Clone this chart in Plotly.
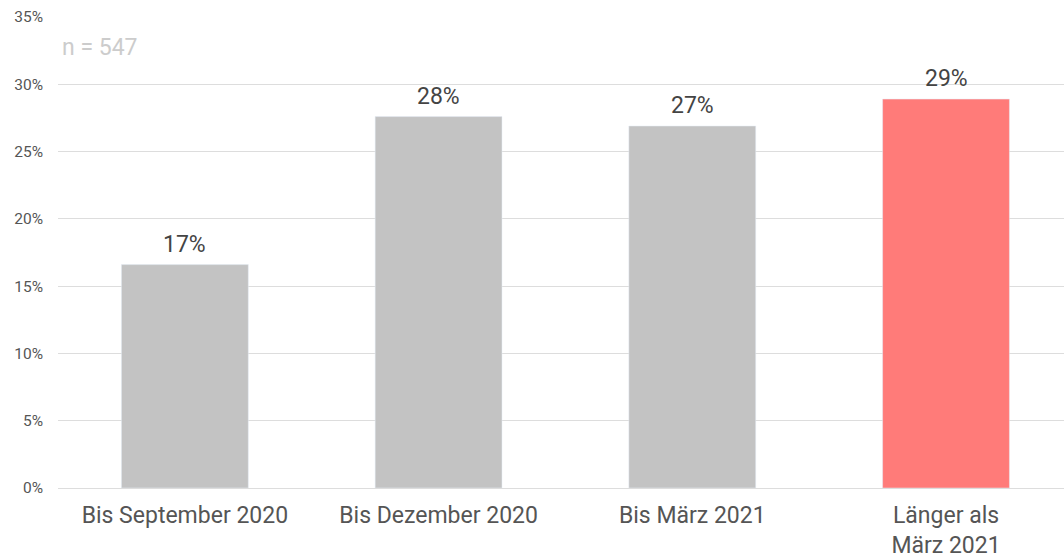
import plotly.graph_objects as go

categories = ["Bis September 2020", "Bis Dezember 2020", "Bis März 2021", "Länger als<br>März 2021"]
values = [16.6, 27.6, 26.9, 28.9]
labels = ["17%", "28%", "27%", "29%"]
colors = ["#c3c3c3", "#c3c3c3", "#c3c3c3", "#ff7b79"]
y_ticks = [0, 5, 10, 15, 20, 25, 30, 35]
y_ticktext = ["0%", "5%", "10%", "15%", "20%", "25%", "30%", "35%"]
note = "n = 547"

fig = go.Figure()
fig.add_trace(go.Bar(
    x=categories, y=values, marker_color=colors, width=0.5,
    hoverinfo="skip", showlegend=False,
))

for c, v, t in zip(categories, values, labels):
    fig.add_annotation(x=c, y=v, text=t, showarrow=False, yanchor="bottom",
                       yshift=5, font=dict(size=23, color="#444444", family="Roboto"))

fig.add_annotation(xref="paper", yref="paper", x=0, y=0.936, xanchor="left", yanchor="middle",
                   xshift=2, text=note, showarrow=False,
                   font=dict(size=23, color="#cccccc", family="Roboto"))

fig.update_layout(
    width=1064, height=555,
    margin=dict(l=58, r=0, t=17, b=67),
    plot_bgcolor="white", paper_bgcolor="white",
    font=dict(family="Roboto"),
    bargap=0.5,
)
fig.update_xaxes(range=[-0.5, 3.465], showgrid=False, showline=False, ticks="",
                 tickfont=dict(size=23, color="#555555"), ticklabelstandoff=11,
                 automargin=False)
fig.update_yaxes(range=[0, 35], tickvals=y_ticks, ticktext=y_ticktext, showgrid=True,
                 gridcolor="#dddddd", gridwidth=1, zeroline=True, zerolinecolor="#dddddd",
                 zerolinewidth=1, showline=False, ticks="",
                 tickfont=dict(size=15.5, color="#555555"), ticklabelstandoff=14,
                 automargin=False)

fig.write_html("out.html", config={"displayModeBar": False},
               post_script="document.body.style.margin='0';document.body.style.overflow='hidden';")
